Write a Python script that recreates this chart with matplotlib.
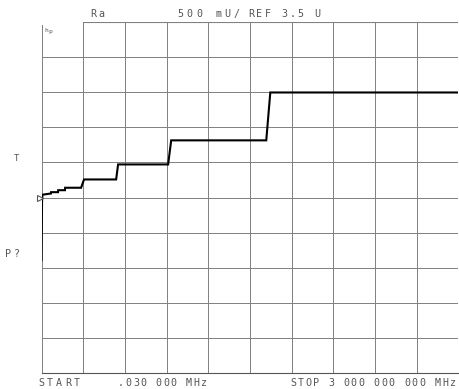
import matplotlib
matplotlib.use("Agg")
import matplotlib.pyplot as plt
import numpy as np

# sweep settings (MHz) and display scale (U)
f_start, f_stop = 0.03, 3000.0
ref_val, per_div = 3.5, 0.5

# trace: frequency in MHz, value in U
freq = [0.03, 2, 4, 7, 68, 69, 119, 120, 169, 170, 285, 306,
        537, 551, 911, 933, 1617, 1646, 3000]
val = [2.61, 3.0, 3.45, 3.54, 3.557, 3.576, 3.576, 3.604, 3.604, 3.639,
       3.639, 3.757, 3.757, 3.971, 3.971, 4.314, 4.314, 4.996, 4.996]

W, H = 459, 389
fig = plt.figure(figsize=(W / 100, H / 100), dpi=100)
ax = fig.add_axes([41.5 / W, 1 - 373 / H, 417 / W, 351 / H])

ylo, yhi = ref_val - 5 * per_div, ref_val + 5 * per_div
ax.set_xlim(f_start, f_stop)
ax.set_ylim(ylo, yhi)

# graticule
for fx in np.linspace(f_start, f_stop, 11)[1:-1]:
    ax.axvline(fx, color="#808080", lw=0.7, zorder=1)
for vy in np.arange(ylo + per_div, yhi, per_div):
    ax.axhline(vy, color="#808080", lw=0.7, zorder=1)
ax.axhline(yhi, xmin=0.1, color="#808080", lw=0.8, zorder=1)

for s in ["top", "right"]:
    ax.spines[s].set_visible(False)
ax.spines["left"].set_color("#808080")
ax.spines["left"].set_linewidth(0.7)
ax.spines["left"].set_bounds(ylo, yhi - 0.04)
ax.spines["bottom"].set_color("#555555")
ax.spines["bottom"].set_linewidth(0.8)
ax.set_xticks([])
ax.set_yticks([])

ax.plot(freq, val, color="black", lw=1.5, solid_joinstyle="miter", zorder=3)

# reference position marker
ax.plot([-12], [ref_val], marker=">", ms=5, mfc="white", mec="#555555",
        mew=0.8, clip_on=False, zorder=4)


def plotter_text(x0, y, s, pitch, size=7.2, color="#555555"):
    for i, ch in enumerate(s):
        if ch == " ":
            continue
        fig.text((x0 + i * pitch) / W, 1 - y / H, ch, fontsize=size,
                 family="DejaVu Sans Mono", color=color,
                 ha="left", va="center")


plotter_text(90, 14, "Ra", 8)
plotter_text(177, 14, "500 mU/", 9.5)
plotter_text(248, 14, "REF 3.5 U", 8.3)
plotter_text(38, 383, "START", 9)
plotter_text(118, 383, ".030 000 MHz", 7.5)
plotter_text(290, 383, "STOP 3 000 000 000 MHz", 7.6)
plotter_text(5, 254, "P?", 8.5)
plotter_text(14, 159, "T", 8, size=6.5)
plotter_text(44, 31, "hp", 4, size=4.5)

fig.savefig("out.png", dpi=100)
